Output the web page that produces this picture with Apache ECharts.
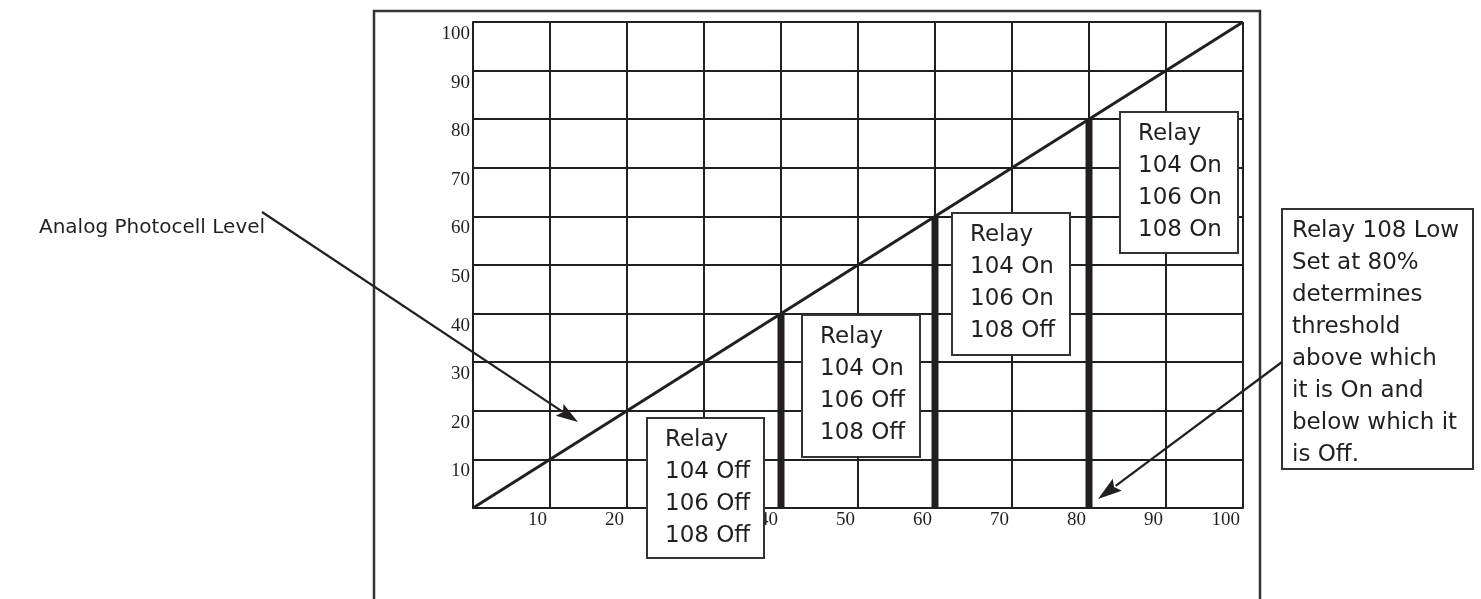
<!DOCTYPE html>
<html><head><meta charset="utf-8">
<script src="https://cdn.jsdelivr.net/npm/echarts@6/dist/echarts.min.js"></script>
<style>html,body{margin:0;padding:0;background:#fff;}#c{width:1481px;height:599px;}</style>
</head><body><div id="c"></div>
<script>
// ---- data ----
const xTickLabels = ['', '10', '20', '30', '40', '50', '60', '70', '80', '90', '100'];
const yTickLabels = ['', '10', '20', '30', '40', '50', '60', '70', '80', '90', '100'];
const photocellX = [0, 100];
const photocellY = [0, 100];
const relayBarX = [40, 60, 80];
const relayBarTop = [40, 60, 80];
const stateTexts = [
  'Relay\n104 Off\n106 Off\n108 Off',
  'Relay\n104 On\n106 Off\n108 Off',
  'Relay\n104 On\n106 On\n108 Off',
  'Relay\n104 On\n106 On\n108 On'
];
const noteText = 'Relay 108 Low\nSet at 80%\ndetermines\nthreshold\nabove which\nit is On and\nbelow which it\nis Off.';
const leftText = 'Analog Photocell Level';

// ---- style ----
const INK = '#231f20';
const SANS = '"DejaVu Sans", sans-serif';
const SERIF = '"Liberation Serif", serif';

const chart = echarts.init(document.getElementById('c'), null, {renderer: 'canvas'});

function box(x, y, w, h, txt, padX) {
  return [
    {type: 'rect', z: 100, shape: {x: x, y: y, width: w, height: h},
     style: {fill: '#fff', stroke: '#333', lineWidth: 2}},
    {type: 'text', z: 101, x: x + padX, y: y + 6,
     style: {text: txt, font: '23px ' + SANS, fill: INK, lineHeight: 32,
             textAlign: 'left', textVerticalAlign: 'top'}}
  ];
}
function arrow(sx, sy, tx, ty, len, half) {
  const dx = tx - sx, dy = ty - sy, L = Math.hypot(dx, dy);
  const ux = dx / L, uy = dy / L, nx = -uy, ny = ux;
  const bx = tx - ux * len, by = ty - uy * len;
  return [
    {type: 'line', z: 100, shape: {x1: sx, y1: sy, x2: bx + ux * 2, y2: by + uy * 2},
     style: {stroke: INK, lineWidth: 2.2}},
    {type: 'polygon', z: 100, shape: {points: [[tx, ty], [bx + nx * half, by + ny * half], [bx + ux * 4, by + uy * 4], [bx - nx * half, by - ny * half]]},
     style: {fill: INK}}
  ];
}

const graphics = [].concat(
  [{type: 'rect', z: 99, shape: {x: 374, y: 11, width: 886, height: 640},
    style: {fill: 'none', stroke: '#333', lineWidth: 2.5}}],
  box(647, 418, 117, 140, stateTexts[0], 18),
  box(802, 315, 118, 142, stateTexts[1], 18),
  box(952, 213, 118, 142, stateTexts[2], 18),
  box(1120, 112, 118, 141, stateTexts[3], 18),
  box(1282, 209, 191, 260, noteText, 10),
  [{type: 'text', z: 101, x: 39, y: 238,
    style: {text: leftText, font: '20px ' + SANS, fill: INK, textAlign: 'left', textVerticalAlign: 'bottom'}}],
  arrow(262, 212, 578, 422, 22, 7),
  arrow(1282, 362, 1098, 499, 24, 7.5)
);

chart.setOption({
  animation: false,
  backgroundColor: '#fff',
  grid: {left: 473, right: 238, top: 22, bottom: 91, containLabel: false},
  xAxis: {
    type: 'value', min: 0, max: 100, interval: 10,
    axisLine: {show: true, lineStyle: {color: INK, width: 2}},
    axisTick: {show: false},
    splitLine: {show: true, lineStyle: {color: INK, width: 2}},
    axisLabel: {
      formatter: v => xTickLabels[Math.round(v / 10)],
      color: INK, fontFamily: SERIF, fontSize: 19, lineHeight: 20,
      align: 'right', verticalAlign: 'top', margin: 2, padding: [0, 3, 0, 0]
    }
  },
  yAxis: {
    type: 'value', min: 0, max: 100, interval: 10,
    axisLine: {show: true, lineStyle: {color: INK, width: 2}},
    axisTick: {show: false},
    splitLine: {show: true, lineStyle: {color: INK, width: 2}},
    axisLabel: {
      formatter: v => yTickLabels[Math.round(v / 10)],
      color: INK, fontFamily: SERIF, fontSize: 19, lineHeight: 20,
      align: 'right', verticalAlign: 'top', margin: 3, padding: [2, 0, 0, 0]
    }
  },
  series: [
    {
      type: 'line', data: photocellX.map((x, i) => [x, photocellY[i]]),
      symbol: 'none', lineStyle: {color: INK, width: 3}, z: 5
    },
    {
      type: 'bar', data: relayBarX.map((x, i) => [x, relayBarTop[i]]),
      barWidth: 7, itemStyle: {color: INK}, z: 4
    }
  ],
  graphic: graphics
});
</script>
</body></html>
